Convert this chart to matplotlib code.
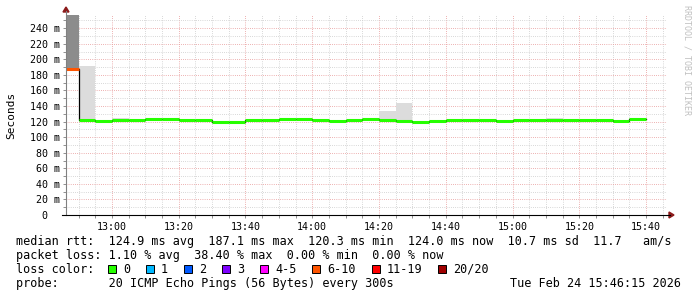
import matplotlib
matplotlib.use("Agg")
import matplotlib.pyplot as plt
from matplotlib.lines import Line2D
from matplotlib.patches import Rectangle, Polygon
from matplotlib.ticker import MultipleLocator, FuncFormatter

W, H = 697, 297
MONO = "DejaVu Sans Mono"

# ---------- data (5 minute bins) ----------
bin_times = ["12:45", "12:50", "12:55", "13:00", "13:05", "13:10", "13:15", "13:20",
             "13:25", "13:30", "13:35", "13:40", "13:45", "13:50", "13:55", "14:00",
             "14:05", "14:10", "14:15", "14:20", "14:25", "14:30", "14:35", "14:40",
             "14:45", "14:50", "14:55", "15:00", "15:05", "15:10", "15:15", "15:20",
             "15:25", "15:30", "15:35"]
median_ms = [187.1, 122.1, 121.3, 122.1, 121.7, 123.9, 123.9, 122.1, 122.5, 120.0,
             120.0, 122.5, 122.5, 123.9, 123.9, 122.5, 121.3, 122.5, 123.9, 122.5,
             121.3, 119.0, 121.3, 122.5, 122.5, 122.5, 121.3, 122.5, 122.5, 122.5,
             122.5, 122.5, 122.5, 121.3, 123.9]
smoke_top_ms = [275.0, 191.0, 121.3, 124.6, 121.7, 123.9, 123.9, 122.1, 122.5, 120.0,
                120.0, 122.5, 122.5, 123.9, 123.9, 122.5, 121.3, 122.5, 123.9, 133.5,
                143.8, 119.0, 121.3, 122.5, 122.5, 122.5, 121.3, 122.5, 122.5, 124.2,
                122.5, 122.5, 123.8, 121.3, 123.9]
loss_pct = [38.4] + [0.0] * 34

loss_labels = ["0", "1", "2", "3", "4-5", "6-10", "11-19", "20/20"]
loss_colors = ["#26ff00", "#00b8ff", "#0059ff", "#7e00ff", "#ff00ff", "#ff5500", "#ff0000", "#a00000"]
loss_upper = [0, 1, 2, 3, 5, 10, 19, 20]   # pings lost (of 20)

legend_lines = [
    "median rtt:  124.9 ms avg  187.1 ms max  120.3 ms min  124.0 ms now  10.7 ms sd  11.7   am/s",
    "packet loss: 1.10 % avg  38.40 % max  0.00 % min  0.00 % now",
]
probe_text = "probe:       20 ICMP Echo Pings (56 Bytes) every 300s"
stamp_text = "Tue Feb 24 15:46:15 2026"


def to_min(s):
    h, m = s.split(":")
    return int(h) * 60 + int(m)


def loss_color(pct):
    lost = pct / 100 * 20
    for up, c in zip(loss_upper, loss_colors):
        if lost <= up:
            return c
    return loss_colors[-1]


def fx(px):
    return px / W


def fy(py):
    return 1 - py / H


x = [to_min(t) for t in bin_times]
x_end = [v + 5 for v in x]

fig = plt.figure(figsize=(W / 100, H / 100), dpi=100)
ax = fig.add_axes([fx(66), fy(215), (667 - 66) / W, 200 / H])
ax.set_xlim(12 * 60 + 46.25, 15 * 60 + 46.25)
ax.set_ylim(0, 257)

# grid
ax.xaxis.set_major_locator(MultipleLocator(20))
ax.xaxis.set_minor_locator(MultipleLocator(5))
ax.yaxis.set_major_locator(MultipleLocator(20))
ax.yaxis.set_minor_locator(MultipleLocator(10))
ax.grid(which="minor", color="#cccccc", lw=0.72, ls=(0, (0.72, 1.44)))
ax.grid(which="major", color="#e89a9a", lw=0.72, ls=(0, (0.72, 1.44)))
ax.set_axisbelow(True)

# smoke
heights = [t - m for t, m in zip(smoke_top_ms, median_ms)]
smoke_cols = ["#8c8c8c" if l > 0 else "#dcdcdc" for l in loss_pct]
ax.bar(x, heights, bottom=median_ms, width=5, align="edge", color=smoke_cols, lw=0, zorder=2)

# median: thin black step + loss coloured segments
ax.step(x + [x_end[-1]], median_ms + [median_ms[-1]], where="post", color="black", lw=0.9, zorder=3)
ax.hlines(median_ms, x, x_end, colors=[loss_color(l) for l in loss_pct], lw=2.2,
          zorder=4, capstyle="butt")

for s in ax.spines.values():
    s.set_visible(False)


def fmt_time(v, pos):
    v = int(round(v))
    return f"{v // 60:02d}:{v % 60:02d}"


def fmt_ms(v, pos):
    return f"{v:3.0f} m" if v else "  0  "


ax.xaxis.set_major_formatter(FuncFormatter(fmt_time))
ax.yaxis.set_major_formatter(FuncFormatter(fmt_ms))
ax.tick_params(which="both", length=2.2, width=0.7, color="#909090", direction="out")
ax.tick_params(axis="x", pad=2.6, labelsize=7.2)
ax.tick_params(axis="y", pad=2.2, labelsize=7.2)
for lab in ax.get_xticklabels() + ax.get_yticklabels():
    lab.set_family(MONO)

# axis lines + arrows
fig.add_artist(Line2D([fx(66), fx(66)], [fy(215), fy(11)], color="#808080", lw=0.8))
fig.add_artist(Line2D([fx(62), fx(670)], [fy(215), fy(215)], color="black", lw=0.8))
fig.add_artist(Polygon([[fx(66), fy(7)], [fx(63), fy(12)], [fx(69), fy(12)]],
                       closed=True, color="#8b1a1a", transform=fig.transFigure))
fig.add_artist(Polygon([[fx(674), fy(215)], [fx(669), fy(212)], [fx(669), fy(218)]],
                       closed=True, color="#8b1a1a", transform=fig.transFigure))

fig.text(fx(11), fy(115), "Seconds", rotation=90, ha="center", va="center",
         family=MONO, fontsize=8)
fig.text(fx(687), fy(5), "RRDTOOL / TOBI OETIKER", rotation=-90, ha="center", va="top",
         family=MONO, fontsize=6, color="#c0c0c0")

# legend
fs = 8.5
cw = 7.1
for i, line in enumerate(legend_lines):
    fig.text(fx(16), fy(245 + 14 * i), line, family=MONO, fontsize=fs, va="baseline")
fig.text(fx(16), fy(273), "loss color:", family=MONO, fontsize=fs, va="baseline")
bx = 108
for lab, col in zip(loss_labels, loss_colors):
    fig.add_artist(Rectangle((fx(bx), fy(272.5)), 8 / W, 8 / H, facecolor=col,
                             edgecolor="black", lw=0.7, transform=fig.transFigure))
    fig.text(fx(bx + 15), fy(273), lab, family=MONO, fontsize=fs, va="baseline")
    bx = bx + 15 + (len(lab) + 2) * cw + 1.7
fig.text(fx(16), fy(287), probe_text, family=MONO, fontsize=fs, va="baseline")
fig.text(fx(681), fy(287), stamp_text, family=MONO, fontsize=fs, va="baseline", ha="right")

fig.savefig("out.png", dpi=100)
